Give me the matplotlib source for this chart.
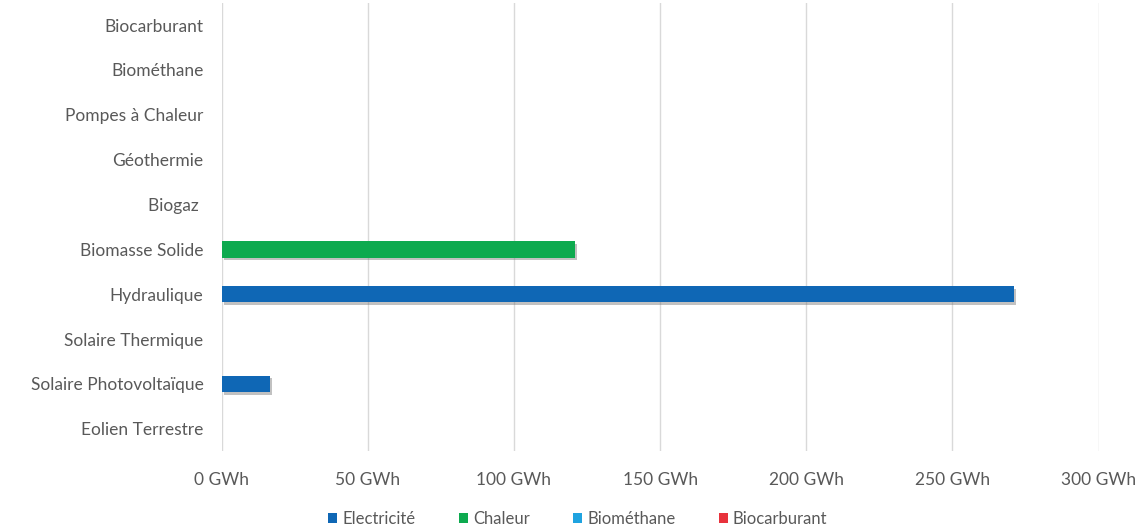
from matplotlib import pyplot as plt
from matplotlib import patheffects
import numpy as np

# données (GWh)
categories = ['Eolien Terrestre', 'Solaire Photovoltaïque', 'Solaire Thermique', 'Hydraulique',
              'Biomasse Solide', 'Biogaz ', 'Géothermie', 'Pompes à Chaleur', 'Biométhane', 'Biocarburant']
electricite = [0, 16.5, 0, 271, 0, 0, 0, 0, 0, 0]
chaleur = [0, 0, 0, 0, 121, 0, 0, 0, 0, 0]
biomethane = [0, 0, 0, 0, 0, 0, 0, 0, 0, 0]
biocarburant = [0, 0, 0, 0, 0, 0, 0, 0, 0, 0]
xticks = [0, 50, 100, 150, 200, 250, 300]

series = [('Electricité', electricite, '#0F67B5'),
          ('Chaleur', chaleur, '#0DAA4F'),
          ('Biométhane', biomethane, '#1FA3E0'),
          ('Biocarburant', biocarburant, '#E8323C')]

plt.rcParams['font.family'] = ['Lato', 'DejaVu Sans']
fig = plt.figure(figsize=(11.42, 5.32), dpi=100)
ax = fig.add_axes([0.194, 0.152, 0.768, 0.843])

y = np.arange(len(categories))
left = np.zeros(len(categories))
shadow = [patheffects.SimplePatchShadow(offset=(1.5, -2), shadow_rgbFace='#777777', alpha=0.45),
          patheffects.Normal()]
for name, vals, col in series:
    vals = np.array(vals, dtype=float)
    bars = ax.barh(y, vals, left=left, height=0.37, color=col, label=name, zorder=3)
    for b in bars:
        if b.get_width() > 0:
            b.set_path_effects(shadow)
    left += vals

ax.set_xlim(0, 300)
ax.set_ylim(-0.5, len(categories) - 0.5)
ax.set_yticks(y)
ax.set_yticklabels(categories)
ax.set_xticks(xticks)
ax.set_xticklabels([f'{v} GWh' for v in xticks])
ax.tick_params(axis='both', length=0, labelsize=12.5, labelcolor='#595959')
ax.tick_params(axis='y', pad=13)
ax.tick_params(axis='x', pad=15)
ax.grid(axis='x', color='#D9D9D9', linewidth=1, zorder=0)
for s in ax.spines.values():
    s.set_visible(False)

leg = fig.legend(loc='center', bbox_to_anchor=(0.506, 0.024), ncol=4, frameon=False,
                 fontsize=12, handlelength=0.55, handleheight=0.55, handletextpad=0.3,
                 columnspacing=2.6, borderpad=0)
for t in leg.get_texts():
    t.set_color('#595959')

fig.savefig('out.png', dpi=100, facecolor='white')
